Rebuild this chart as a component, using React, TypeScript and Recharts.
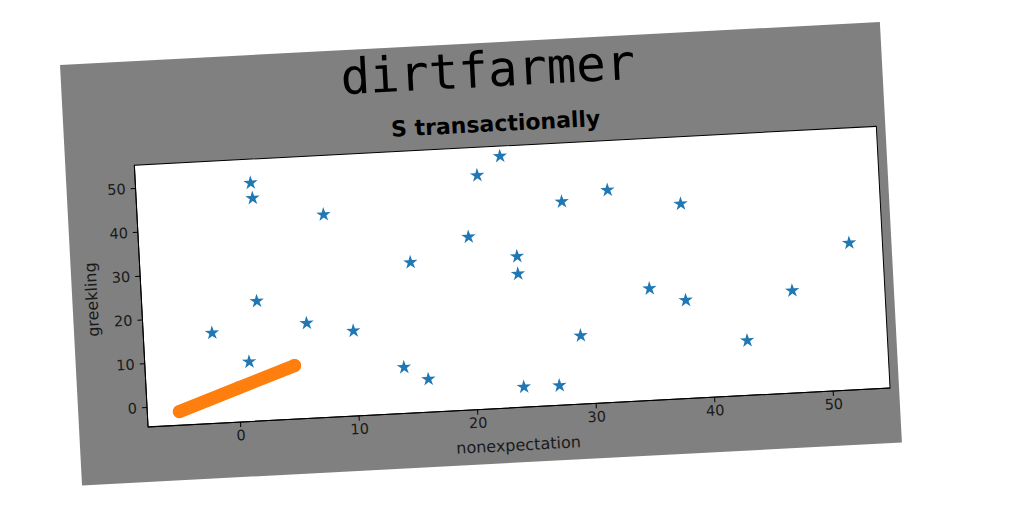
import React from 'react'
import {
  ScatterChart,
  Scatter,
  XAxis,
  YAxis,
  ZAxis,
  CartesianGrid,
  ReferenceArea,
} from 'recharts'

// blue stars
const starX = [1.9, 2.0, 7.9, 1.9, -2.0, 6.0, 9.9, 1.0, 23.0, 21.0, 28.0, 31.9, 38.0, 20.0, 15.0, 24.0, 24.0, 52.0, 35.0, 38.0, 47.0, 29.0, 43.0, 14.0, 16.0, 24.0, 27.0]
const starY = [49.9, 46.4, 41.8, 22.9, 16.2, 17.3, 15.0, 9.2, 53.0, 48.9, 41.9, 44.0, 40.0, 35.0, 29.9, 30.0, 26.0, 29.1, 21.1, 18.0, 18.9, 11.2, 8.1, 6.1, 3.1, 0.2, 0.1]

// thick orange line
const lineX = [-5.1, 0.0, 4.8]
const lineY = [-1.3, 3.4, 7.8]

const xTicks = [0, 10, 20, 30, 40, 50]
const yTicks = [0, 10, 20, 30, 40, 50]
const xDomain: [number, number] = [-7.8, 54.8]
const yDomain: [number, number] = [-4.4, 55.3]

const stars = starX.map((x, i) => ({ x, y: starY[i] }))
const line = lineX.map((x, i) => ({ x, y: lineY[i] }))

const W = 821
const H = 421
const font = '"DejaVu Sans", sans-serif'

const Dot = (props: any) => (
  <circle cx={props.cx} cy={props.cy} r={6.5} fill="#ff7f0e" />
)

export default function App() {
  return (
    <div
      style={{
        position: 'absolute',
        left: 60,
        top: 65,
        width: W,
        height: H,
        background: '#808080',
        transform: 'rotate(-3deg)',
        transformOrigin: '0 0',
        fontFamily: font,
      }}
    >
      <div
        style={{
          position: 'absolute',
          left: 427 - 200,
          width: 400,
          top: 4,
          textAlign: 'center',
          fontFamily: '"DejaVu Sans Mono", monospace',
          fontSize: 49,
          lineHeight: '48px',
          color: '#000',
        }}
      >
        dirtfarmer
      </div>
      <div
        style={{
          position: 'absolute',
          left: 432 - 200,
          width: 400,
          top: 70,
          textAlign: 'center',
          fontFamily: '"Comic Sans MS", "DejaVu Sans", sans-serif',
          fontWeight: 'bold',
          fontSize: 22,
          lineHeight: '24px',
          color: '#000',
        }}
      >
        S transactionally
      </div>
      <ScatterChart
        width={W}
        height={H}
        margin={{ top: 104, right: 9, bottom: 25, left: 19 }}
      >
        <CartesianGrid horizontal={false} vertical={false} fill="#fff" fillOpacity={1} />
        <XAxis
          type="number"
          dataKey="x"
          domain={xDomain}
          allowDataOverflow
          ticks={xTicks}
          height={30}
          tickSize={5}
          tickMargin={3}
          axisLine={{ stroke: '#000' }}
          tickLine={{ stroke: '#000' }}
          tick={{ fill: '#1a1a1a', fontSize: 14.5, fontFamily: font }}
        />
        <YAxis
          type="number"
          dataKey="y"
          domain={yDomain}
          allowDataOverflow
          ticks={yTicks}
          width={50}
          tickSize={5}
          tickMargin={5}
          axisLine={{ stroke: '#000' }}
          tickLine={{ stroke: '#000' }}
          tick={{ fill: '#1a1a1a', fontSize: 14.5, fontFamily: font }}
        />
        <ZAxis range={[100, 100]} />
        <ReferenceArea
          x1={xDomain[0]}
          x2={xDomain[1]}
          y1={yDomain[0]}
          y2={yDomain[1]}
          fill="none"
          fillOpacity={0}
          stroke="#000"
          strokeWidth={1}
        />
        <Scatter
          data={stars}
          shape="star"
          fill="#1f77b4"
          isAnimationActive={false}
        />
        <Scatter
          data={line}
          shape={<Dot />}
          line={{ stroke: '#ff7f0e', strokeWidth: 13, strokeLinecap: 'round' }}
          fill="#ff7f0e"
          isAnimationActive={false}
        />
      </ScatterChart>
      <div
        style={{
          position: 'absolute',
          left: 438 - 100,
          width: 200,
          top: 395,
          textAlign: 'center',
          fontSize: 16,
          lineHeight: '18px',
          color: '#1a1a1a',
        }}
      >
        nonexpectation
      </div>
      <div
        style={{
          position: 'absolute',
          left: 20 - 50,
          top: 236 - 9,
          width: 100,
          textAlign: 'center',
          fontSize: 16,
          lineHeight: '18px',
          color: '#1a1a1a',
          transform: 'rotate(-90deg)',
        }}
      >
        greekling
      </div>
    </div>
  )
}
